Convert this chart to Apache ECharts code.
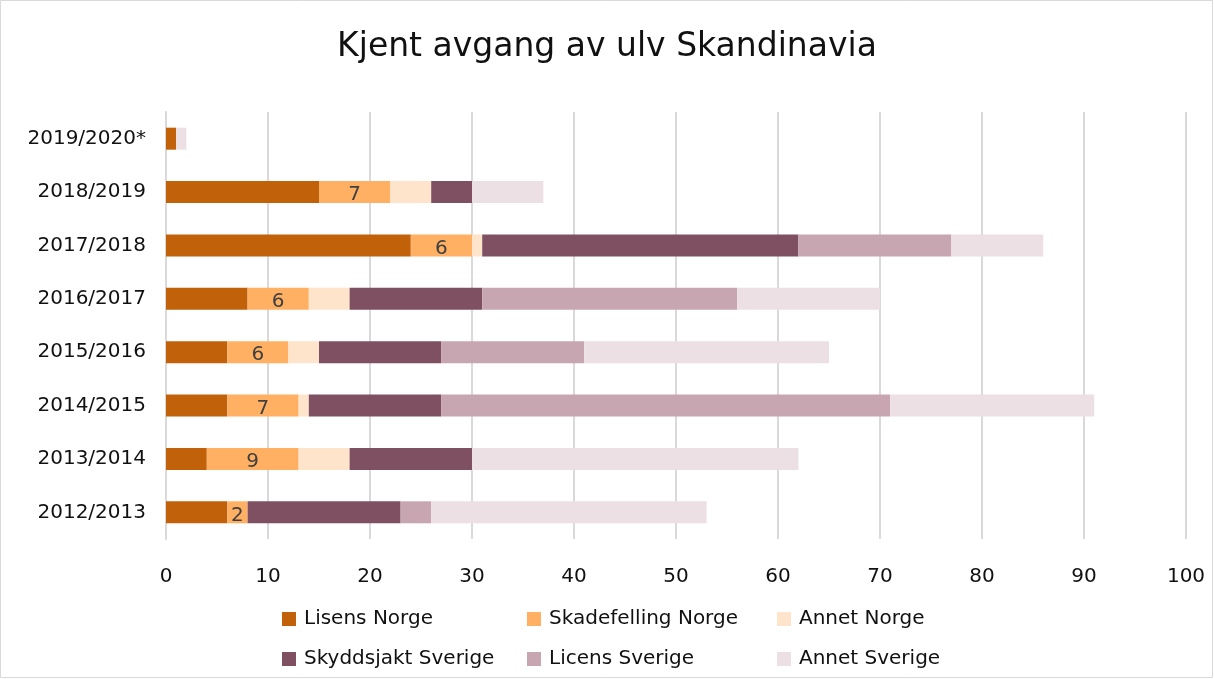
<!DOCTYPE html>
<html><head><meta charset="utf-8">
<script src="https://cdn.jsdelivr.net/npm/echarts@6/dist/echarts.min.js"></script>
<style>html,body{margin:0;padding:0;background:#fff}#c{width:1214px;height:679px}</style>
</head><body><div id="c"></div>
<script>
const categories = ['2012/2013','2013/2014','2014/2015','2015/2016','2016/2017','2017/2018','2018/2019','2019/2020*'];
const lisensNorge      = [6, 4, 6, 6, 8, 24, 15, 1];
const skadefellingNorge= [2, 9, 7, 6, 6, 6, 7, 0];
const annetNorge       = [0, 5, 1, 3, 4, 1, 4, 0];
const skyddsjaktSverige= [15, 12, 13, 12, 13, 31, 4, 0];
const licensSverige    = [3, 0, 44, 14, 25, 15, 0, 0];
const annetSverige     = [27, 32, 20, 24, 14, 9, 7, 1];
const xTicks = [0,10,20,30,40,50,60,70,80,90,100];

const FONT = '"DejaVu Sans",sans-serif';
const names = ['Lisens Norge','Skadefelling Norge','Annet Norge','Skyddsjakt Sverige','Licens Sverige','Annet Sverige'];
const colors = ['#C1620B','#FFB063','#FFE4CC','#7F5061','#C8A6B1','#EDE0E5'];
const values = [lisensNorge,skadefellingNorge,annetNorge,skyddsjaktSverige,licensSverige,annetSverige];

const series = names.map((n,i)=>({
  name:n, type:'bar', stack:'s', barWidth:22,
  itemStyle:{color:colors[i]},
  data: values[i].map(v=>v===0?null:v),
  label: i===1 ? {show:true, position:'inside', color:'#404040', fontSize:20, fontFamily:FONT, offset:[0,3]} : {show:false},
  emphasis:{disabled:true}
}));

const legendPos = [[277,604],[522,604],[772,604],[277,644],[522,644],[772,644]];
const legends = names.map((n,i)=>({
  data:[n], left:legendPos[i][0], top:legendPos[i][1], itemWidth:14, itemHeight:14, itemGap:6,
  icon:'rect', textStyle:{fontSize:20, color:'#111', fontFamily:FONT, padding:[0,0,0,3]}, selectedMode:false
}));

const chart = echarts.init(document.getElementById('c'));
chart.setOption({
  animation:false,
  title:{text:'Kjent avgang av ulv Skandinavia', left:'center', top:26,
    textStyle:{fontSize:33, fontWeight:'normal', color:'#111', fontFamily:FONT}},
  legend: legends,
  graphic:[{type:'rect', shape:{x:0.5,y:0.5,width:1212,height:677}, style:{fill:'none', stroke:'#d9d9d9', lineWidth:1}}],
  grid:{left:166, right:28, top:112, bottom:140},
  xAxis:{type:'value', min:0, max:100, interval:10,
    axisLine:{show:false}, axisTick:{show:false},
    splitLine:{lineStyle:{color:'#d9d9d9', width:2}},
    axisLabel:{fontSize:20, color:'#111', fontFamily:FONT, margin:28}},
  yAxis:{type:'category', data:categories,
    axisLine:{show:true, lineStyle:{color:'#d9d9d9', width:2}}, axisTick:{show:false},
    axisLabel:{fontSize:20, color:'#111', fontFamily:FONT, margin:20, padding:[6,0,0,0]}},
  series
});
</script></body></html>
